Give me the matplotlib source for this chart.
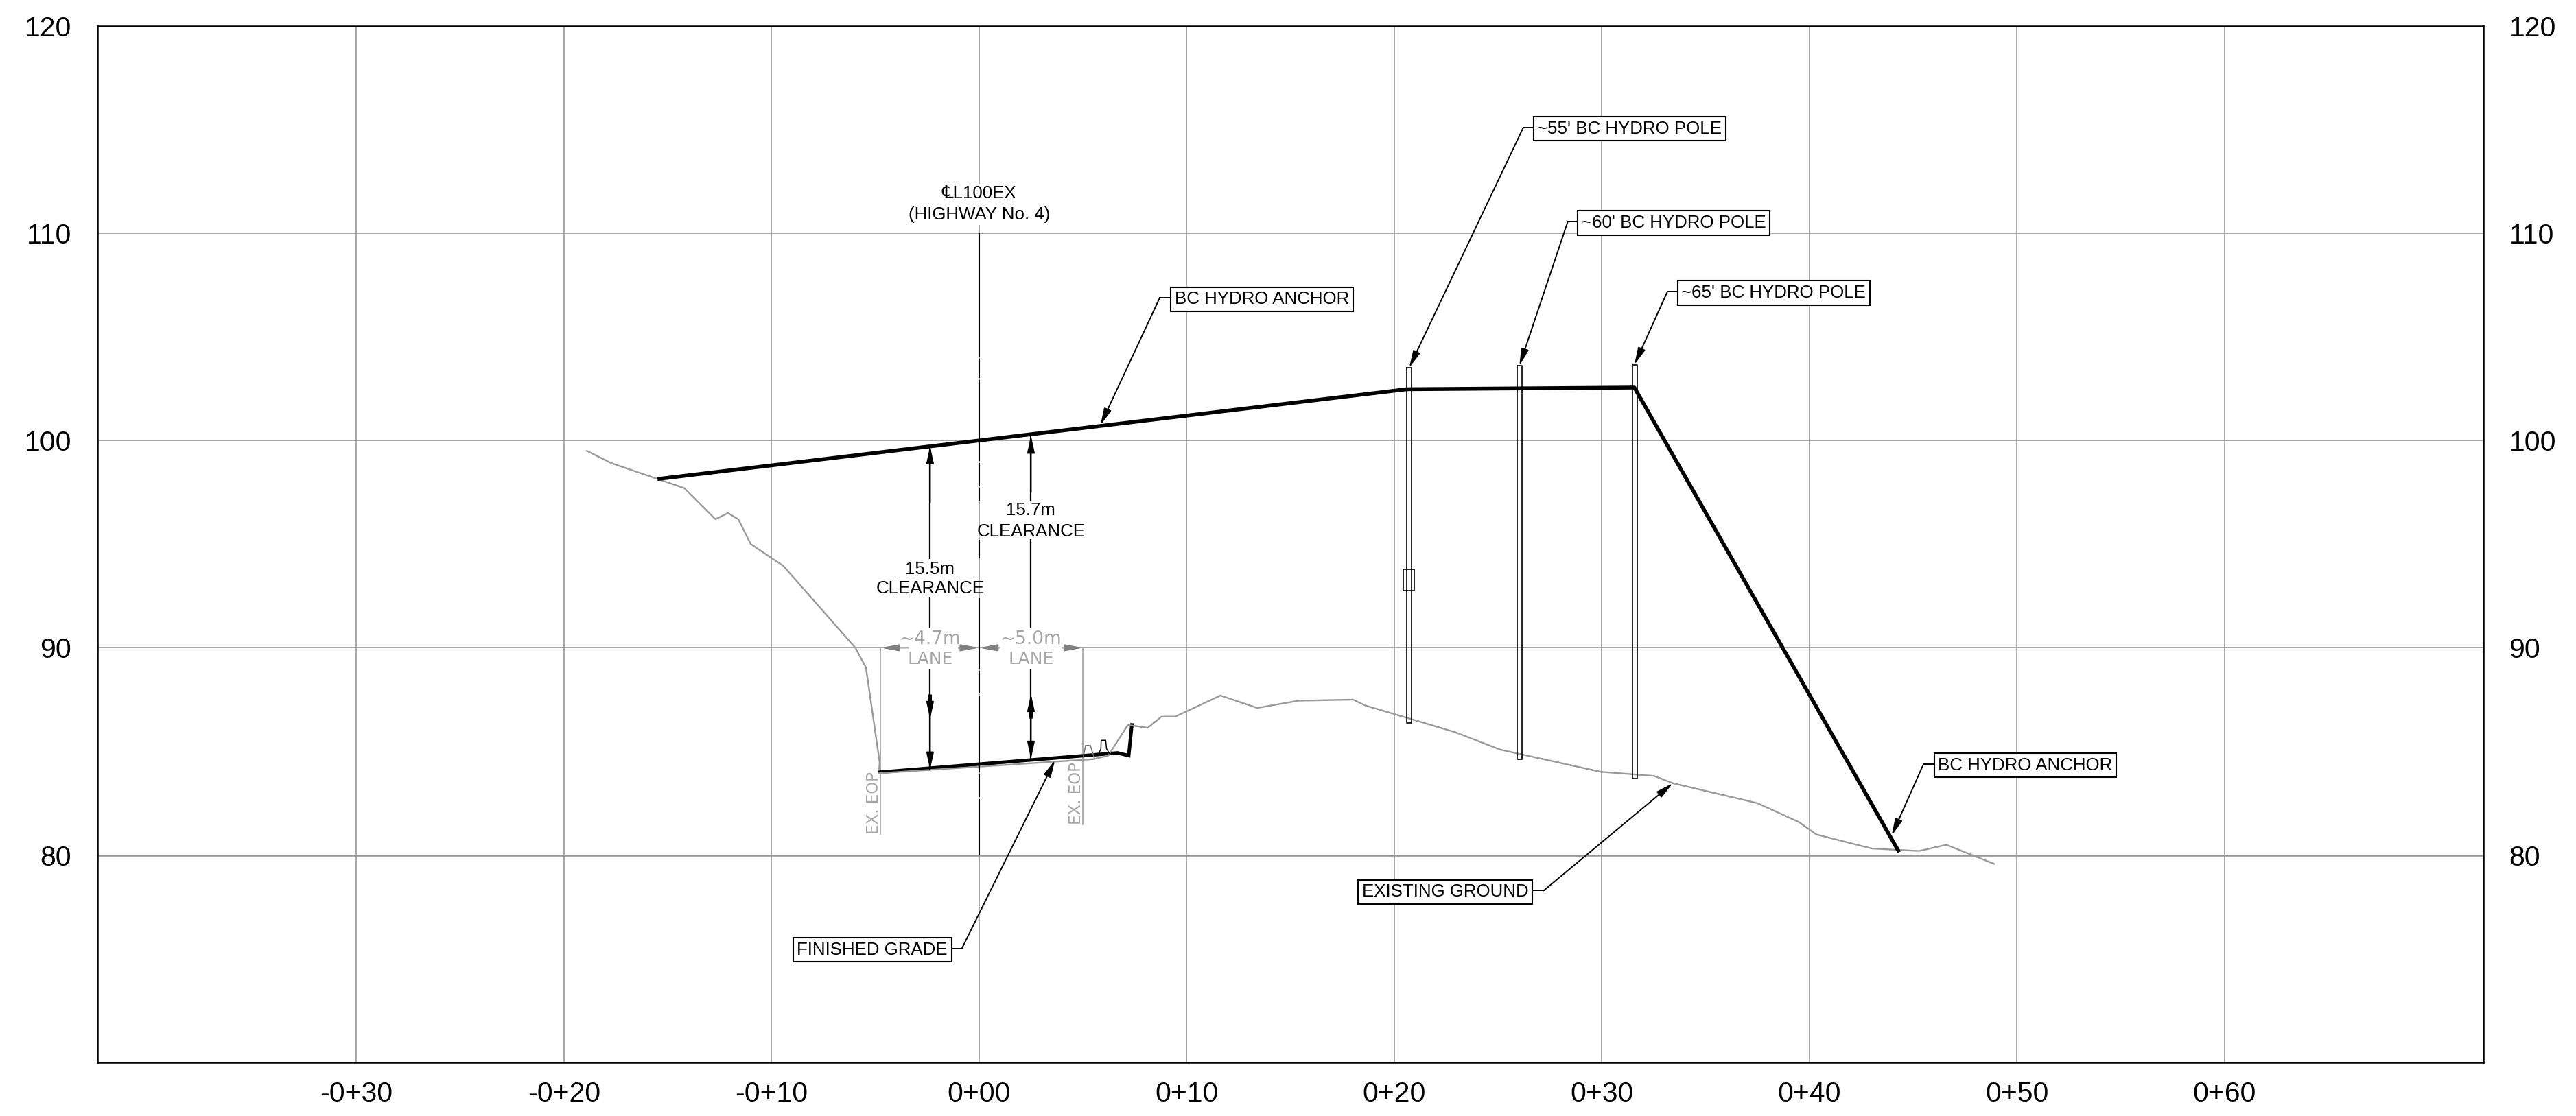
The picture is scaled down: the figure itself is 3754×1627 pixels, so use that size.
import matplotlib
matplotlib.use("Agg")
import matplotlib.pyplot as plt

plt.rcParams['font.family'] = ['Liberation Sans', 'DejaVu Sans']

# --- data (station in m, elevation in m) ---
x_ticks = [-30, -20, -10, 0, 10, 20, 30, 40, 50, 60]
x_labels = ['-0+30', '-0+20', '-0+10', '0+00', '0+10', '0+20', '0+30', '0+40', '0+50', '0+60']
y_ticks = [80, 90, 100, 110, 120]

ground_x = [-18.9, -17.7, -14.2, -12.7, -12.1, -11.6, -11.0, -9.43, -5.96, -5.45, -4.79, -4.82]
ground_y = [99.5, 98.9, 97.7, 96.2, 96.5, 96.2, 95.0, 93.95, 90.0, 89.05, 84.47, 84.03]
ground2_x = [-4.82, 5.52, 6.22, 7.17, 8.12, 8.79, 9.45, 11.63, 13.4, 15.4, 18.02, 18.6, 22.94, 25.1, 29.94, 32.52, 33.42, 37.49, 39.49, 40.33, 43.0, 45.29, 46.6, 48.9]
ground2_y = [83.95, 84.63, 84.8, 86.28, 86.14, 86.68, 86.68, 87.7, 87.1, 87.45, 87.5, 87.22, 85.93, 85.09, 84.02, 83.82, 83.47, 82.51, 81.6, 81.0, 80.32, 80.2, 80.5, 79.58]

grade_x = [-4.78, 6.67, 7.21, 7.36]
grade_y = [84.0, 84.93, 84.8, 86.28]

hydro_x = [-15.4, 20.61, 31.57, 44.28]
hydro_y = [98.15, 102.47, 102.55, 80.22]

pole_x = [20.72, 26.04, 31.59]
pole_top = [103.51, 103.6, 103.65]
pole_bottom = [86.36, 84.62, 83.69]
pole_width = 0.22

curb1_x = [5.02, 5.13, 5.36, 5.56]
curb1_y = [84.72, 85.29, 85.29, 84.65]
curb2_x = [5.76, 5.87, 5.88, 6.10, 6.14, 6.29]
curb2_y = [84.89, 85.13, 85.54, 85.54, 85.13, 84.89]

# centreline pieces (top, bottom)
cl_pieces = [(110, 104), (103.9, 103), (102.9, 99), (98.9, 97.8), (97.7, 97.1), (95.2, 94.3),
             (92.4, 89), (88.9, 87.8), (87.7, 84), (83.9, 82.8), (82.7, 80)]

# clearance arrows: x, line pieces
left_arrow_x = -2.36
left_lines = [(99.72, 94.3), (92.4, 84.13)]
right_arrow_x = 2.50
right_lines = [(100.23, 97.1), (95.2, 84.65)]

# leaders: label, box-side x, y, elbow x, tip x, tip y
callouts_left = [
    ('BC HYDRO ANCHOR', 9.23, 106.87, 8.7, 5.84, 100.73),
    ("~55' BC HYDRO POLE", 26.69, 115.09, 26.22, 20.72, 103.51),
    ("~60' BC HYDRO POLE", 28.83, 110.55, 28.36, 26.03, 103.6),
    ("~65' BC HYDRO POLE", 33.64, 107.17, 33.16, 31.57, 103.65),
    ('BC HYDRO ANCHOR', 46.0, 84.39, 45.5, 43.96, 80.94),
]
callouts_right = [
    ('EXISTING GROUND', 26.67, 78.29, 27.2, 33.42, 83.47),
    ('FINISHED GRADE', -1.32, 75.5, -0.83, 3.66, 84.58),
]

eop_x = [-4.74, 5.01]
eop_bottom = [81.0, 81.49]

GREY = '#999999'
DIM = '#a6a6a6'
TXT = 18.6


def arrow(ax, x0, y0, x1, y1, color='black', lw=1.4, length=15, width=3.3):
    ax.annotate('', xy=(x1, y1), xytext=(x0, y0), zorder=6,
                arrowprops=dict(arrowstyle=f'-|>,head_length={length},head_width={width}',
                                mutation_scale=1, shrinkA=0, shrinkB=0, color=color, lw=lw))


fig = plt.figure(figsize=(37.54, 16.27), dpi=100)
ax = fig.add_axes([141.8 / 3754, 1 - 1549 / 1627, (3619 - 141.8) / 3754, (1549 - 37.5) / 1627])
ax.set_xlim(-42.48, 72.47)
ax.set_ylim(70, 120)

ax.set_xticks(x_ticks)
ax.set_xticklabels(x_labels)
ax.set_yticks(y_ticks)
ax.tick_params(axis='both', length=0, labelsize=29.5)
ax.tick_params(axis='x', pad=19.5)
ax.tick_params(axis='y', pad=27, labelright=True)
for lab in ax.get_yticklabels() + ax.get_yticklabels(which='major'):
    lab.set_va('center_baseline')
for tick in ax.yaxis.get_major_ticks():
    tick.label1.set_va('center_baseline')
    tick.label2.set_va('center_baseline')
ax.grid(True, color='#909090', lw=1.1, zorder=1)
ax.axhline(80, color='#aaaaaa', lw=2.2, zorder=1)
for spine in ax.spines.values():
    spine.set_linewidth(1.8)

# ground and finished grade
ax.plot(ground_x, ground_y, color=GREY, lw=1.7, zorder=3)
ax.plot(grade_x, grade_y, color='black', lw=3.6, zorder=3, solid_joinstyle='miter')
ax.plot(ground2_x, ground2_y, color=GREY, lw=1.7, zorder=4)
ax.plot(curb1_x, curb1_y, color='#777777', lw=1.1, zorder=4)
ax.plot(curb2_x, curb2_y, color='black', lw=1.1, zorder=4)

# hydro line and poles
for x, top, bottom in zip(pole_x, pole_top, pole_bottom):
    ax.plot([x - pole_width / 2, x - pole_width / 2, x + pole_width / 2, x + pole_width / 2, x - pole_width / 2],
            [top, bottom, bottom, top, top], color='black', lw=1.2, zorder=5)
ax.plot([20.45, 20.45, 20.97, 20.97, 20.45], [92.75, 93.78, 93.78, 92.75, 92.75], color='black', lw=1.2, zorder=5)
ax.plot(hydro_x, hydro_y, color='black', lw=4.0, zorder=5)

# centreline
for top, bottom in cl_pieces:
    ax.plot([0, 0], [top, bottom], color='black', lw=1.5, zorder=4, solid_capstyle='butt')

# clearance arrows
for top, bottom in left_lines:
    ax.plot([left_arrow_x] * 2, [top, bottom], color='black', lw=1.6, zorder=4)
for top, bottom in right_lines:
    ax.plot([right_arrow_x] * 2, [top, bottom], color='black', lw=1.6, zorder=4)
arrow(ax, left_arrow_x, 97, left_arrow_x, 99.72)
arrow(ax, right_arrow_x, 97.5, right_arrow_x, 100.23)
ax.plot([left_arrow_x] * 2, [87.77, 87.17], color='black', lw=3.6, zorder=5, solid_capstyle='butt')
arrow(ax, left_arrow_x, 87.7, left_arrow_x, 86.57)
arrow(ax, left_arrow_x, 87, left_arrow_x, 84.13)
ax.plot([right_arrow_x] * 2, [87.17, 86.6], color='black', lw=3.6, zorder=5, solid_capstyle='butt')
arrow(ax, right_arrow_x, 86.6, right_arrow_x, 87.77)
arrow(ax, right_arrow_x, 87, right_arrow_x, 84.65)

# lane dimensions
for x, bottom in zip(eop_x, eop_bottom):
    ax.plot([x, x], [90, bottom], color=GREY, lw=1.1, zorder=2)
arrow(ax, -3.4, 90, eop_x[0], 90, color='#808080', length=16, width=3)
arrow(ax, -1, 90, 0, 90, color='#808080', length=16, width=3)
arrow(ax, 1, 90, 0, 90, color='#808080', length=16, width=3)
arrow(ax, 4, 90, eop_x[1], 90, color='#808080', length=16, width=3)

white = dict(fc='white', ec='none', pad=2)
cad = dict(color=DIM, family='DejaVu Sans', ha='center', va='center', zorder=5)
for x, dim in zip([-2.36, 2.50], ['~4.7m', '~5.0m']):
    ax.text(x, 90.42, dim, fontsize=19, bbox=white, **cad)
    ax.text(x, 89.45, 'LANE', fontsize=18, bbox=white, **cad)
ax.text(-4.70, 81.0, 'EX. EOP', color=DIM, family='DejaVu Sans', fontsize=16.5, rotation=90, ha='right', va='bottom', zorder=5)
ax.text(5.05, 81.49, 'EX. EOP', color=DIM, family='DejaVu Sans', fontsize=16.5, rotation=90, ha='right', va='bottom', zorder=5)

# text labels
ax.text(0, 111.9, '\u2104L100EX', fontsize=TXT, ha='center', va='center', zorder=7, bbox=white)
ax.text(0, 110.88, '(HIGHWAY No. 4)', fontsize=TXT, ha='center', va='center', zorder=7, bbox=white)
ax.text(left_arrow_x, 93.78, '15.5m', fontsize=TXT, ha='center', va='center', zorder=7)
ax.text(left_arrow_x, 92.85, 'CLEARANCE', fontsize=TXT, ha='center', va='center', zorder=7)
ax.text(right_arrow_x, 96.62, '15.7m', fontsize=TXT, ha='center', va='center', zorder=7)
ax.text(right_arrow_x, 95.6, 'CLEARANCE', fontsize=TXT, ha='center', va='center', zorder=7)

# boxed callouts
box = dict(boxstyle='square,pad=0.22', fc='white', ec='black', lw=1.5)
for label, bx, by, ex, tx, ty in callouts_left:
    ax.text(bx + 0.2, by - 0.06, label, fontsize=TXT, ha='left', va='center', bbox=box, zorder=7)
    ax.plot([bx, ex], [by, by], color='black', lw=1.4, zorder=6)
    arrow(ax, ex, by, tx, ty)
for label, bx, by, ex, tx, ty in callouts_right:
    ax.text(bx - 0.2, by - 0.06, label, fontsize=TXT, ha='right', va='center', bbox=box, zorder=7)
    ax.plot([bx, ex], [by, by], color='black', lw=1.4, zorder=6)
    arrow(ax, ex, by, tx, ty)

fig.savefig('out.png', dpi=100)
